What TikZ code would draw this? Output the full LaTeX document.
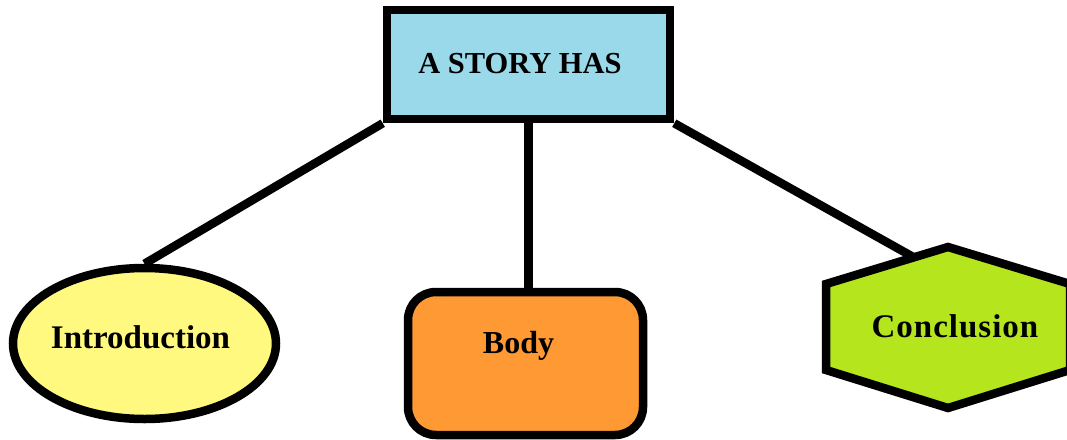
\documentclass[tikz,border=0pt]{standalone}
\usepackage{fontspec}
\setmainfont{Liberation Serif}
\usetikzlibrary{shapes.geometric,calc,backgrounds}
\definecolor{boxblue}{HTML}{99D9EA}
\definecolor{ellyellow}{HTML}{FFF980}
\definecolor{bodyorange}{HTML}{FF9933}
\definecolor{hexgreen}{HTML}{B5E61D}
\tikzset{
  shapeline/.style={draw=black, line width=8.5pt},
  conn/.style={draw=black, line width=8.5pt},
  lbl/.style={anchor=base, inner sep=0pt, font=\bfseries},
}
\begin{document}
\begin{tikzpicture}[x=1pt,y=-1pt]
\useasboundingbox (0,0) rectangle (1067,439);
% shapes
\node[shapeline, fill=boxblue, minimum width=283pt, minimum height=109pt, inner sep=0pt] (top) at (528.5,64.5) {};
\node[ellipse, shapeline, fill=ellyellow, minimum width=263pt, minimum height=151pt, inner sep=0pt] (intro) at (144.5,343.5) {};
\node[shapeline, fill=bodyorange, rounded corners=28pt, minimum width=235pt, minimum height=143pt, inner sep=0pt] (body) at (525.5,363.5) {};
\coordinate (ht) at (948,247);
\coordinate (hrt) at (1070,284);
\coordinate (hrb) at (1070,370);
\coordinate (hb) at (948,408);
\coordinate (hlb) at (826,370);
\coordinate (hlt) at (826,284);
\coordinate (cjoin) at ($(ht)!0.28!(hlt)$);
\draw[shapeline, fill=hexgreen, line join=miter] (ht) -- (hrt) -- (hrb) -- (hb) -- (hlb) -- (hlt) -- cycle;
% connectors
\begin{scope}[on background layer]
\draw[conn] (top.south west) -- (intro.north);
\draw[conn] (top.south) -- (top.south |- body.north);
\draw[conn] (top.south east) -- (cjoin);
\end{scope}
% labels
\node[lbl, font=\bfseries\fontsize{30.5}{36}\selectfont] (toptxt) at (520,73) {A STORY HAS};
\node[lbl, font=\bfseries\fontsize{33}{38}\selectfont] (introtxt) at (140.5,348) {Introduction};
\node[lbl, font=\bfseries\fontsize{32}{38}\selectfont] (bodytxt) at (518.5,353) {Body};
\node[lbl, font=\bfseries\fontsize{33}{38}\selectfont\addfontfeature{LetterSpace=3}] (concltxt) at (955,337) {Conclusion};
\end{tikzpicture}
\end{document}
